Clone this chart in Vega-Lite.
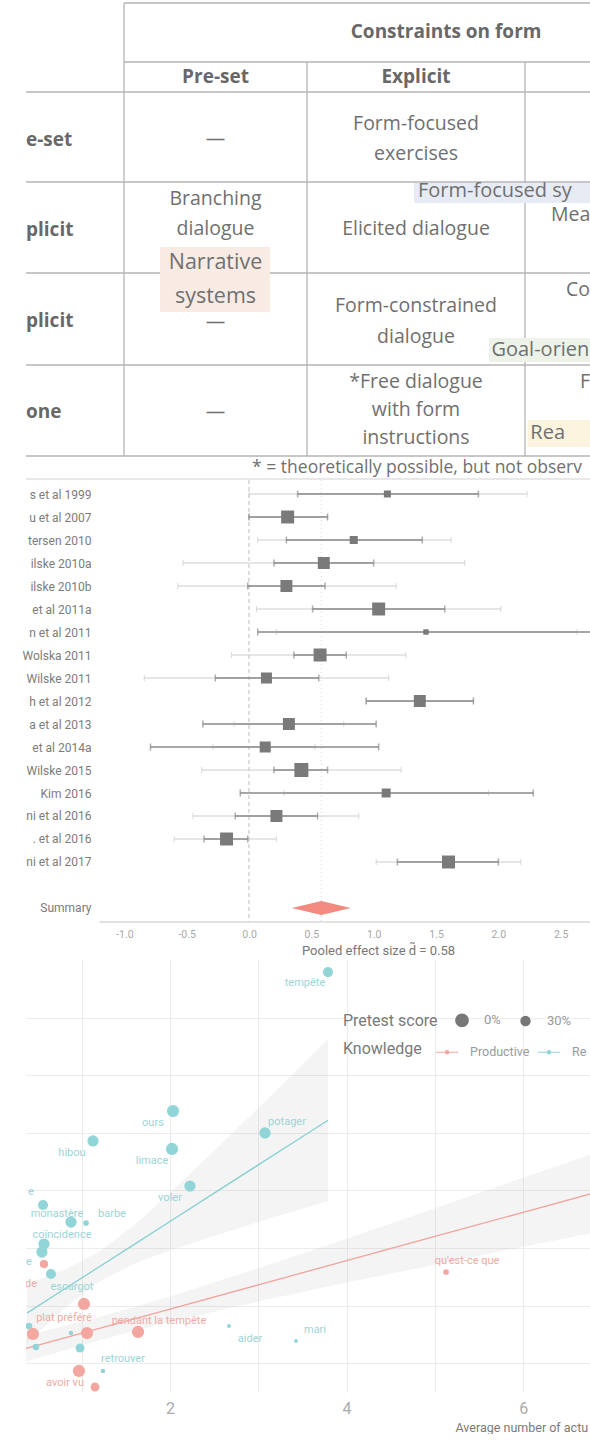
{
  "$schema": "https://vega.github.io/schema/vega-lite/v6.json",
  "padding": 0,
  "background": "white",
  "spacing": 0,
  "bounds": "flush",
  "resolve": {"scale": {"color": "independent", "size": "independent"}, "legend": {"color": "independent", "size": "independent"}},
  "config": {"view": {"stroke": null}, "font": "Roboto"},
  "datasets": {
    "tableLines": [
      {"x": 1, "x2": 4, "y": 0, "y2": 0},
      {"x": 1, "x2": 4, "y": 1, "y2": 1},
      {"x": 0, "x2": 4, "y": 2, "y2": 2},
      {"x": 0, "x2": 4, "y": 3, "y2": 3},
      {"x": 0, "x2": 4, "y": 4, "y2": 4},
      {"x": 0, "x2": 4, "y": 5, "y2": 5},
      {"x": 0, "x2": 4, "y": 6, "y2": 6},
      {"x": 1, "x2": 1, "y": 0, "y2": 6},
      {"x": 2, "x2": 2, "y": 1, "y2": 6},
      {"x": 3, "x2": 3, "y": 1, "y2": 6}
    ],
    "tableBoxes": [
      {"label": "Form-focused sy", "x": 2.491, "x2": 4, "y": 3.011, "y2": 3.231},
      {"label": "Narrative systems", "x": 1.197, "x2": 1.798, "y": 3.714, "y2": 4.424},
      {"label": "Goal-orien", "x": 2.835, "x2": 4, "y": 4.707, "y2": 4.967},
      {"label": "Rea", "x": 3.01, "x2": 4, "y": 5.604, "y2": 5.901}
    ],
    "tableText": [
      {"text": "Constraints on form", "x": 2.638, "y": 0.49, "part": "header"},
      {"text": "Pre-set", "x": 1.5, "y": 1.5, "part": "header"},
      {"text": "Explicit", "x": 2.5, "y": 1.5, "part": "header"},
      {"text": "e-set", "x": 0, "y": 2.533, "part": "rowhead"},
      {"text": "plicit", "x": 0, "y": 3.53, "part": "rowhead"},
      {"text": "plicit", "x": 0, "y": 4.522, "part": "rowhead"},
      {"text": "one", "x": 0, "y": 5.516, "part": "rowhead"},
      {"text": "—", "x": 1.5, "y": 2.52, "part": "cell"},
      {"text": "Form-focused", "x": 2.5, "y": 2.356, "part": "cell"},
      {"text": "exercises", "x": 2.5, "y": 2.689, "part": "cell"},
      {"text": "Branching", "x": 1.5, "y": 3.187, "part": "cell"},
      {"text": "dialogue", "x": 1.5, "y": 3.516, "part": "cell"},
      {"text": "Elicited dialogue", "x": 2.5, "y": 3.516, "part": "cell"},
      {"text": "—", "x": 1.5, "y": 4.533, "part": "cell"},
      {"text": "Form-constrained", "x": 2.5, "y": 4.359, "part": "cell"},
      {"text": "dialogue", "x": 2.5, "y": 4.696, "part": "cell"},
      {"text": "—", "x": 1.5, "y": 5.516, "part": "cell"},
      {"text": "*Free dialogue", "x": 2.5, "y": 5.187, "part": "cell"},
      {"text": "with form", "x": 2.5, "y": 5.495, "part": "cell"},
      {"text": "instructions", "x": 2.5, "y": 5.8, "part": "cell"},
      {"text": "Mea", "x": 3.107, "y": 3.36, "part": "cut"},
      {"text": "Co", "x": 3.169, "y": 4.185, "part": "cut"},
      {"text": "F", "x": 3.226, "y": 5.187, "part": "cut"},
      {"text": "Narrative", "x": 1.5, "y": 3.89, "part": "tag"},
      {"text": "systems", "x": 1.5, "y": 4.26, "part": "tag"},
      {"text": "Form-focused sy", "x": 2.509, "y": 3.1, "part": "tagcut"},
      {"text": "Goal-orien", "x": 2.846, "y": 4.837, "part": "tagcut"},
      {"text": "Rea", "x": 3.022, "y": 5.75, "part": "tagcut"},
      {"text": "* = theoretically possible, but not observ", "x": 1.7, "y": 6.5, "part": "note"}
    ],
    "forest": [
      {"study": "s et al 1999", "d": 1.11, "weight": 0.25, "lo1": 0.0, "hi1": 2.23, "lo2": 0.39, "hi2": 1.84},
      {"study": "u et al 2007", "d": 0.31, "weight": 0.86, "lo1": 0.0, "hi1": 0.63, "lo2": 0.0, "hi2": 0.63},
      {"study": "tersen 2010", "d": 0.84, "weight": 0.33, "lo1": 0.07, "hi1": 1.62, "lo2": 0.3, "hi2": 1.39},
      {"study": "ilske 2010a", "d": 0.6, "weight": 0.73, "lo1": -0.53, "hi1": 1.73, "lo2": 0.2, "hi2": 1.0},
      {"study": "ilske 2010b", "d": 0.3, "weight": 0.73, "lo1": -0.57, "hi1": 1.18, "lo2": -0.01, "hi2": 0.61},
      {"study": "et al 2011a", "d": 1.04, "weight": 0.86, "lo1": 0.06, "hi1": 2.02, "lo2": 0.51, "hi2": 1.57},
      {"study": "n et al 2011", "d": 1.42, "weight": 0.15, "lo1": 0.22, "hi1": 2.63, "lo2": 0.07, "hi2": 3.3},
      {"study": "Wolska 2011", "d": 0.57, "weight": 0.86, "lo1": -0.14, "hi1": 1.26, "lo2": 0.36, "hi2": 0.78},
      {"study": "Wilske 2011", "d": 0.14, "weight": 0.62, "lo1": -0.84, "hi1": 1.12, "lo2": -0.27, "hi2": 0.56},
      {"study": "h et al 2012", "d": 1.37, "weight": 0.73, "lo1": 0.94, "hi1": 1.8, "lo2": 0.94, "hi2": 1.8},
      {"study": "a et al 2013", "d": 0.32, "weight": 0.73, "lo1": -0.12, "hi1": 0.76, "lo2": -0.37, "hi2": 1.02},
      {"study": "et al 2014a", "d": 0.13, "weight": 0.62, "lo1": -0.29, "hi1": 0.53, "lo2": -0.79, "hi2": 1.04},
      {"study": "Wilske 2015", "d": 0.42, "weight": 1.0, "lo1": -0.38, "hi1": 1.22, "lo2": 0.2, "hi2": 0.63},
      {"study": "Kim 2016", "d": 1.1, "weight": 0.41, "lo1": 0.28, "hi1": 1.92, "lo2": -0.07, "hi2": 2.28},
      {"study": "ni et al 2016", "d": 0.22, "weight": 0.73, "lo1": -0.45, "hi1": 0.88, "lo2": -0.11, "hi2": 0.55},
      {"study": ". et al 2016", "d": -0.18, "weight": 0.86, "lo1": -0.6, "hi1": 0.22, "lo2": -0.36, "hi2": -0.01},
      {"study": "ni et al 2017", "d": 1.6, "weight": 0.86, "lo1": 1.02, "hi1": 2.18, "lo2": 1.19, "hi2": 2.0}
    ],
    "scatterPoints": [
      {"word": "tempête", "knowledge": "Receptive", "x": 3.789, "y": 6.79, "pretest": 0.2},
      {"word": "ours", "knowledge": "Receptive", "x": 2.034, "y": 4.378, "pretest": 0},
      {"word": "hibou", "knowledge": "Receptive", "x": 1.128, "y": 3.858, "pretest": 0.1},
      {"word": "limace", "knowledge": "Receptive", "x": 2.023, "y": 3.719, "pretest": 0},
      {"word": "potager", "knowledge": "Receptive", "x": 3.076, "y": 3.997, "pretest": 0.1},
      {"word": "voler", "knowledge": "Receptive", "x": 2.226, "y": 3.076, "pretest": 0.1},
      {"word": "w7", "knowledge": "Receptive", "x": 0.562, "y": 2.747, "pretest": 0.2},
      {"word": "monastère", "knowledge": "Receptive", "x": 0.879, "y": 2.451, "pretest": 0.1},
      {"word": "barbe", "knowledge": "Receptive", "x": 1.049, "y": 2.434, "pretest": 0.5},
      {"word": "coïncidence", "knowledge": "Receptive", "x": 0.573, "y": 2.069, "pretest": 0.1},
      {"word": "w11", "knowledge": "Receptive", "x": 0.55, "y": 1.93, "pretest": 0.1},
      {"word": "escargot", "knowledge": "Receptive", "x": 0.652, "y": 1.548, "pretest": 0.2},
      {"word": "w13", "knowledge": "Receptive", "x": 0.403, "y": 0.646, "pretest": 0.45},
      {"word": "w14", "knowledge": "Receptive", "x": 0.879, "y": 0.524, "pretest": 0.55},
      {"word": "aider", "knowledge": "Receptive", "x": 2.668, "y": 0.646, "pretest": 0.57},
      {"word": "mari", "knowledge": "Receptive", "x": 3.427, "y": 0.385, "pretest": 0.57},
      {"word": "w17", "knowledge": "Receptive", "x": 0.482, "y": 0.281, "pretest": 0.45},
      {"word": "retrouver", "knowledge": "Receptive", "x": 0.981, "y": 0.264, "pretest": 0.3},
      {"word": "w19", "knowledge": "Receptive", "x": 1.241, "y": -0.135, "pretest": 0.55},
      {"word": "w20", "knowledge": "Productive", "x": 0.573, "y": 1.722, "pretest": 0.35},
      {"word": "plat préféré", "knowledge": "Productive", "x": 1.026, "y": 1.028, "pretest": 0},
      {"word": "w22", "knowledge": "Productive", "x": 0.448, "y": 0.507, "pretest": 0},
      {"word": "w23", "knowledge": "Productive", "x": 1.06, "y": 0.524, "pretest": 0},
      {"word": "pendant la tempête", "knowledge": "Productive", "x": 1.638, "y": 0.542, "pretest": 0},
      {"word": "w25", "knowledge": "Productive", "x": 0.969, "y": -0.135, "pretest": 0},
      {"word": "avoir vu", "knowledge": "Productive", "x": 1.151, "y": -0.413, "pretest": 0.3},
      {"word": "qu'est-ce que", "knowledge": "Productive", "x": 5.126, "y": 1.583, "pretest": 0.5}
    ],
    "fits": [
      {"group": "Receptive", "x": 0.38, "fit": 0.87, "lo": 0.36, "hi": 1.38},
      {"group": "Receptive", "x": 0.8, "fit": 1.283, "lo": 0.95, "hi": 1.62},
      {"group": "Receptive", "x": 1.2, "fit": 1.675, "lo": 1.42, "hi": 1.94},
      {"group": "Receptive", "x": 1.6, "fit": 2.068, "lo": 1.73, "hi": 2.4},
      {"group": "Receptive", "x": 2.0, "fit": 2.461, "lo": 1.96, "hi": 2.96},
      {"group": "Receptive", "x": 2.5, "fit": 2.952, "lo": 2.21, "hi": 3.69},
      {"group": "Receptive", "x": 3.0, "fit": 3.443, "lo": 2.45, "hi": 4.43},
      {"group": "Receptive", "x": 3.4, "fit": 3.836, "lo": 2.64, "hi": 5.03},
      {"group": "Receptive", "x": 3.79, "fit": 4.219, "lo": 2.82, "hi": 5.62},
      {"group": "Productive", "x": 0.3, "fit": 0.226, "lo": 0.0, "hi": 0.45},
      {"group": "Productive", "x": 1.2, "fit": 0.604, "lo": 0.4, "hi": 0.8},
      {"group": "Productive", "x": 2.0, "fit": 0.94, "lo": 0.72, "hi": 1.16},
      {"group": "Productive", "x": 3.0, "fit": 1.36, "lo": 1.07, "hi": 1.65},
      {"group": "Productive", "x": 4.0, "fit": 1.78, "lo": 1.4, "hi": 2.16},
      {"group": "Productive", "x": 5.0, "fit": 2.2, "lo": 1.71, "hi": 2.69},
      {"group": "Productive", "x": 6.0, "fit": 2.62, "lo": 2.02, "hi": 3.22},
      {"group": "Productive", "x": 7.2, "fit": 3.124, "lo": 2.39, "hi": 3.85}
    ],
    "wordLabels": [
      {"text": "tempête", "group": "Receptive", "x": 3.529, "y": 6.6},
      {"text": "ours", "group": "Receptive", "x": 1.807, "y": 4.17},
      {"text": "hibou", "group": "Receptive", "x": 0.89, "y": 3.649},
      {"text": "limace", "group": "Receptive", "x": 1.796, "y": 3.51},
      {"text": "potager", "group": "Receptive", "x": 3.325, "y": 4.19},
      {"text": "voler", "group": "Receptive", "x": 2.0, "y": 2.87},
      {"text": "e", "group": "Receptive", "x": 0.426, "y": 2.97},
      {"text": "monastère", "group": "Receptive", "x": 0.72, "y": 2.589},
      {"text": "barbe", "group": "Receptive", "x": 1.343, "y": 2.589},
      {"text": "coïncidence", "group": "Receptive", "x": 0.777, "y": 2.225},
      {"text": "e", "group": "Receptive", "x": 0.403, "y": 1.757},
      {"text": "de", "group": "Productive", "x": 0.426, "y": 1.375},
      {"text": "escargot", "group": "Receptive", "x": 0.89, "y": 1.323},
      {"text": "plat préféré", "group": "Productive", "x": 0.8, "y": 0.785},
      {"text": "pendant la tempête", "group": "Productive", "x": 1.875, "y": 0.733},
      {"text": "aider", "group": "Receptive", "x": 2.906, "y": 0.42},
      {"text": "mari", "group": "Receptive", "x": 3.642, "y": 0.576},
      {"text": "retrouver", "group": "Receptive", "x": 1.468, "y": 0.073},
      {"text": "avoir vu", "group": "Productive", "x": 0.811, "y": -0.344},
      {"text": "qu'est-ce que", "group": "Productive", "x": 5.364, "y": 1.774}
    ]
  },
  "vconcat": [
    {
      "width": 590,
      "height": 480,
      "layer": [
        {
          "data": {"name": "tableLines"},
          "mark": {"type": "rule", "color": "#b4b4b4", "strokeWidth": 1.3, "clip": true},
          "encoding": {
            "x": {"field": "x", "type": "quantitative", "scale": {"domain": [0, 1, 2, 3, 4], "range": [26, 124, 307, 525, 768]}, "axis": null},
            "x2": {"field": "x2"},
            "y": {"field": "y", "type": "quantitative", "scale": {"domain": [0, 1, 2, 3, 4, 5, 6, 7], "range": [3, 62, 92, 182, 273, 365, 456, 479]}, "axis": null},
            "y2": {"field": "y2"}
          }
        },
        {
          "data": {"values": [{"edge": "bottom"}]},
          "mark": {"type": "rule", "color": "#d2d2d2", "strokeWidth": 1.2, "clip": true},
          "encoding": {
            "x": {"datum": 0, "type": "quantitative", "scale": {"domain": [0, 1, 2, 3, 4], "range": [26, 124, 307, 525, 768]}},
            "x2": {"datum": 4},
            "y": {"datum": 7, "type": "quantitative", "scale": {"domain": [0, 1, 2, 3, 4, 5, 6, 7], "range": [3, 62, 92, 182, 273, 365, 456, 479]}}
          }
        },
        {
          "data": {"name": "tableBoxes"},
          "mark": {"type": "rect", "clip": true},
          "encoding": {
            "x": {"field": "x", "type": "quantitative", "scale": {"domain": [0, 1, 2, 3, 4], "range": [26, 124, 307, 525, 768]}},
            "x2": {"field": "x2"},
            "y": {"field": "y", "type": "quantitative", "scale": {"domain": [0, 1, 2, 3, 4, 5, 6, 7], "range": [3, 62, 92, 182, 273, 365, 456, 479]}},
            "y2": {"field": "y2"},
            "fill": {"field": "label", "type": "nominal", "scale": {"domain": ["Form-focused sy", "Narrative systems", "Goal-orien", "Rea"], "range": ["#e7ebf4", "#f8ebe3", "#edf3e8", "#fcf4df"]}, "legend": null}
          }
        },
        {
          "data": {"name": "tableText"},
          "transform": [{"filter": "datum.part === 'header'"}],
          "mark": {"type": "text", "font": "Open Sans", "fontWeight": "bold", "fontSize": 19, "color": "#686868", "align": "center", "baseline": "middle"},
          "encoding": {
            "x": {"field": "x", "type": "quantitative", "scale": {"domain": [0, 1, 2, 3, 4], "range": [26, 124, 307, 525, 768]}},
            "y": {"field": "y", "type": "quantitative", "scale": {"domain": [0, 1, 2, 3, 4, 5, 6, 7], "range": [3, 62, 92, 182, 273, 365, 456, 479]}},
            "text": {"field": "text"}
          }
        },
        {
          "data": {"name": "tableText"},
          "transform": [{"filter": "datum.part === 'rowhead'"}],
          "mark": {"type": "text", "font": "Open Sans", "fontWeight": "bold", "fontSize": 19, "color": "#686868", "align": "left", "baseline": "middle"},
          "encoding": {
            "x": {"field": "x", "type": "quantitative", "scale": {"domain": [0, 1, 2, 3, 4], "range": [26, 124, 307, 525, 768]}},
            "y": {"field": "y", "type": "quantitative", "scale": {"domain": [0, 1, 2, 3, 4, 5, 6, 7], "range": [3, 62, 92, 182, 273, 365, 456, 479]}},
            "text": {"field": "text"}
          }
        },
        {
          "data": {"name": "tableText"},
          "transform": [{"filter": "datum.part === 'cell'"}],
          "mark": {"type": "text", "font": "Open Sans", "fontSize": 19.5, "color": "#707070", "align": "center", "baseline": "middle"},
          "encoding": {
            "x": {"field": "x", "type": "quantitative", "scale": {"domain": [0, 1, 2, 3, 4], "range": [26, 124, 307, 525, 768]}},
            "y": {"field": "y", "type": "quantitative", "scale": {"domain": [0, 1, 2, 3, 4, 5, 6, 7], "range": [3, 62, 92, 182, 273, 365, 456, 479]}},
            "text": {"field": "text"}
          }
        },
        {
          "data": {"name": "tableText"},
          "transform": [{"filter": "datum.part === 'cut'"}],
          "mark": {"type": "text", "font": "Open Sans", "fontSize": 19.5, "color": "#707070", "align": "left", "baseline": "middle"},
          "encoding": {
            "x": {"field": "x", "type": "quantitative", "scale": {"domain": [0, 1, 2, 3, 4], "range": [26, 124, 307, 525, 768]}},
            "y": {"field": "y", "type": "quantitative", "scale": {"domain": [0, 1, 2, 3, 4, 5, 6, 7], "range": [3, 62, 92, 182, 273, 365, 456, 479]}},
            "text": {"field": "text"}
          }
        },
        {
          "data": {"name": "tableText"},
          "transform": [{"filter": "datum.part === 'tag'"}],
          "mark": {"type": "text", "font": "Open Sans", "fontSize": 21.5, "color": "#707070", "align": "center", "baseline": "middle"},
          "encoding": {
            "x": {"field": "x", "type": "quantitative", "scale": {"domain": [0, 1, 2, 3, 4], "range": [26, 124, 307, 525, 768]}},
            "y": {"field": "y", "type": "quantitative", "scale": {"domain": [0, 1, 2, 3, 4, 5, 6, 7], "range": [3, 62, 92, 182, 273, 365, 456, 479]}},
            "text": {"field": "text"}
          }
        },
        {
          "data": {"name": "tableText"},
          "transform": [{"filter": "datum.part === 'tagcut'"}],
          "mark": {"type": "text", "font": "Open Sans", "fontSize": 20, "color": "#707070", "align": "left", "baseline": "middle"},
          "encoding": {
            "x": {"field": "x", "type": "quantitative", "scale": {"domain": [0, 1, 2, 3, 4], "range": [26, 124, 307, 525, 768]}},
            "y": {"field": "y", "type": "quantitative", "scale": {"domain": [0, 1, 2, 3, 4, 5, 6, 7], "range": [3, 62, 92, 182, 273, 365, 456, 479]}},
            "text": {"field": "text"}
          }
        },
        {
          "data": {"name": "tableText"},
          "transform": [{"filter": "datum.part === 'note'"}],
          "mark": {"type": "text", "font": "Open Sans", "fontSize": 17.5, "color": "#707070", "align": "left", "baseline": "middle"},
          "encoding": {
            "x": {"field": "x", "type": "quantitative", "scale": {"domain": [0, 1, 2, 3, 4], "range": [26, 124, 307, 525, 768]}},
            "y": {"field": "y", "type": "quantitative", "scale": {"domain": [0, 1, 2, 3, 4, 5, 6, 7], "range": [3, 62, 92, 182, 273, 365, 456, 479]}},
            "text": {"field": "text"}
          }
        }
      ]
    },
    {
      "spacing": 38,
      "bounds": "flush",
      "resolve": {"scale": {"color": "independent", "size": "independent"}, "legend": {"color": "independent", "size": "independent"}},
      "vconcat": [
        {
          "width": 590,
          "height": 442,
          "layer": [
            {
              "data": {"values": [{"ref": "zero"}]},
              "mark": {"type": "rule", "color": "#bdbdbd", "strokeDash": [4, 3], "strokeWidth": 1},
              "encoding": {"x": {"datum": 0, "type": "quantitative", "scale": {"domain": [-1.997, 2.735], "nice": false, "zero": false}}}
            },
            {
              "data": {"values": [{"ref": "pooled"}]},
              "mark": {"type": "rule", "color": "#d6d6d6", "strokeDash": [1, 3], "strokeWidth": 1},
              "encoding": {"x": {"datum": 0.58, "type": "quantitative", "scale": {"domain": [-1.997, 2.735], "nice": false, "zero": false}}}
            },
            {
              "data": {"values": [{"ref": "axis"}]},
              "mark": {"type": "rule", "color": "#c4c4c4", "strokeWidth": 1.2},
              "encoding": {
                "x": {"datum": -1.2, "type": "quantitative", "scale": {"domain": [-1.997, 2.735], "nice": false, "zero": false}},
                "x2": {"datum": 3.0},
                "y": {"value": "height"}
              }
            },
            {
              "data": {"name": "forest"},
              "mark": {"type": "rule", "color": "#cdcdcd", "strokeWidth": 1.1, "clip": true},
              "encoding": {
                "x": {"field": "lo1", "type": "quantitative", "scale": {"domain": [-1.997, 2.735], "nice": false, "zero": false},
                  "axis": {"title": "Pooled effect size d̃ = 0.58", "values": [-1, -0.5, 0, 0.5, 1, 1.5, 2, 2.5], "labelExpr": "replace(format(datum.value, '.1f'), '−', '-')", "domain": false, "ticks": false, "grid": false, "labelPadding": 7, "labelFontSize": 10.5, "labelColor": "#a8a8a8", "titleFontSize": 13, "titleFontWeight": "normal", "titleColor": "#777777", "titleX": 378, "titleY": 28, "titleAlign": "center", "titleBaseline": "middle"}},
                "x2": {"field": "hi1"},
                "y": {"field": "study", "type": "nominal", "sort": null,
                  "scale": {"type": "point", "padding": 0.6087, "domain": ["s et al 1999", "u et al 2007", "tersen 2010", "ilske 2010a", "ilske 2010b", "et al 2011a", "n et al 2011", "Wolska 2011", "Wilske 2011", "h et al 2012", "a et al 2013", "et al 2014a", "Wilske 2015", "Kim 2016", "ni et al 2016", ". et al 2016", "ni et al 2017", " ", "Summary"]},
                  "axis": {"title": null, "orient": "left", "offset": -100, "domain": false, "ticks": false, "grid": false, "labelPadding": 9, "labelFontSize": 12, "labelColor": "#7c7c7c", "minExtent": 0}}
              }
            },
            {
              "data": {"name": "forest"},
              "mark": {"type": "tick", "color": "#cdcdcd", "thickness": 1.1, "size": 6, "clip": true},
              "encoding": {
                "x": {"field": "lo1", "type": "quantitative", "scale": {"domain": [-1.997, 2.735], "nice": false, "zero": false}},
                "y": {"field": "study", "type": "nominal", "sort": null, "scale": {"type": "point", "padding": 0.6087, "domain": ["s et al 1999", "u et al 2007", "tersen 2010", "ilske 2010a", "ilske 2010b", "et al 2011a", "n et al 2011", "Wolska 2011", "Wilske 2011", "h et al 2012", "a et al 2013", "et al 2014a", "Wilske 2015", "Kim 2016", "ni et al 2016", ". et al 2016", "ni et al 2017", " ", "Summary"]}}
              }
            },
            {
              "data": {"name": "forest"},
              "mark": {"type": "tick", "color": "#cdcdcd", "thickness": 1.1, "size": 6, "clip": true},
              "encoding": {
                "x": {"field": "hi1", "type": "quantitative", "scale": {"domain": [-1.997, 2.735], "nice": false, "zero": false}},
                "y": {"field": "study", "type": "nominal", "sort": null, "scale": {"type": "point", "padding": 0.6087, "domain": ["s et al 1999", "u et al 2007", "tersen 2010", "ilske 2010a", "ilske 2010b", "et al 2011a", "n et al 2011", "Wolska 2011", "Wilske 2011", "h et al 2012", "a et al 2013", "et al 2014a", "Wilske 2015", "Kim 2016", "ni et al 2016", ". et al 2016", "ni et al 2017", " ", "Summary"]}}
              }
            },
            {
              "data": {"name": "forest"},
              "mark": {"type": "rule", "color": "#8a8a8a", "strokeWidth": 1.6, "clip": true},
              "encoding": {
                "x": {"field": "lo2", "type": "quantitative", "scale": {"domain": [-1.997, 2.735], "nice": false, "zero": false}},
                "x2": {"field": "hi2"},
                "y": {"field": "study", "type": "nominal", "sort": null, "scale": {"type": "point", "padding": 0.6087, "domain": ["s et al 1999", "u et al 2007", "tersen 2010", "ilske 2010a", "ilske 2010b", "et al 2011a", "n et al 2011", "Wolska 2011", "Wilske 2011", "h et al 2012", "a et al 2013", "et al 2014a", "Wilske 2015", "Kim 2016", "ni et al 2016", ". et al 2016", "ni et al 2017", " ", "Summary"]}}
              }
            },
            {
              "data": {"name": "forest"},
              "mark": {"type": "tick", "color": "#8a8a8a", "thickness": 1.5, "size": 7, "clip": true},
              "encoding": {
                "x": {"field": "lo2", "type": "quantitative", "scale": {"domain": [-1.997, 2.735], "nice": false, "zero": false}},
                "y": {"field": "study", "type": "nominal", "sort": null, "scale": {"type": "point", "padding": 0.6087, "domain": ["s et al 1999", "u et al 2007", "tersen 2010", "ilske 2010a", "ilske 2010b", "et al 2011a", "n et al 2011", "Wolska 2011", "Wilske 2011", "h et al 2012", "a et al 2013", "et al 2014a", "Wilske 2015", "Kim 2016", "ni et al 2016", ". et al 2016", "ni et al 2017", " ", "Summary"]}}
              }
            },
            {
              "data": {"name": "forest"},
              "mark": {"type": "tick", "color": "#8a8a8a", "thickness": 1.5, "size": 7, "clip": true},
              "encoding": {
                "x": {"field": "hi2", "type": "quantitative", "scale": {"domain": [-1.997, 2.735], "nice": false, "zero": false}},
                "y": {"field": "study", "type": "nominal", "sort": null, "scale": {"type": "point", "padding": 0.6087, "domain": ["s et al 1999", "u et al 2007", "tersen 2010", "ilske 2010a", "ilske 2010b", "et al 2011a", "n et al 2011", "Wolska 2011", "Wilske 2011", "h et al 2012", "a et al 2013", "et al 2014a", "Wilske 2015", "Kim 2016", "ni et al 2016", ". et al 2016", "ni et al 2017", " ", "Summary"]}}
              }
            },
            {
              "data": {"name": "forest"},
              "mark": {"type": "point", "shape": "square", "filled": true, "color": "#7a7a7a", "opacity": 1},
              "encoding": {
                "x": {"field": "d", "type": "quantitative", "scale": {"domain": [-1.997, 2.735], "nice": false, "zero": false}},
                "y": {"field": "study", "type": "nominal", "sort": null, "scale": {"type": "point", "padding": 0.6087, "domain": ["s et al 1999", "u et al 2007", "tersen 2010", "ilske 2010a", "ilske 2010b", "et al 2011a", "n et al 2011", "Wolska 2011", "Wilske 2011", "h et al 2012", "a et al 2013", "et al 2014a", "Wilske 2015", "Kim 2016", "ni et al 2016", ". et al 2016", "ni et al 2017", " ", "Summary"]}},
                "size": {"field": "weight", "type": "quantitative", "scale": {"domain": [0, 1], "range": [0, 196]}, "legend": null}
              }
            },
            {
              "data": {"values": [{"study": "Summary", "d": 0.58}]},
              "mark": {"type": "point", "shape": "M-1,0L0,-0.24L1,0L0,0.24Z", "filled": true, "color": "#f38a80", "opacity": 1, "size": 3481},
              "encoding": {
                "x": {"field": "d", "type": "quantitative", "scale": {"domain": [-1.997, 2.735], "nice": false, "zero": false}},
                "y": {"field": "study", "type": "nominal", "sort": null, "scale": {"type": "point", "padding": 0.6087, "domain": ["s et al 1999", "u et al 2007", "tersen 2010", "ilske 2010a", "ilske 2010b", "et al 2011a", "n et al 2011", "Wolska 2011", "Wilske 2011", "h et al 2012", "a et al 2013", "et al 2014a", "Wilske 2015", "Kim 2016", "ni et al 2016", ". et al 2016", "ni et al 2017", " ", "Summary"]}}
              }
            }
          ]
        },
        {
          "width": 590,
          "height": 432,
          "layer": [
            {
              "data": {"name": "fits"},
              "mark": {"type": "area", "color": "#9a9a9a", "opacity": 0.11, "clip": true},
              "encoding": {
                "x": {"field": "x", "type": "quantitative", "scale": {"domain": [0.075, 6.756], "nice": false, "zero": false},
                  "axis": {"values": [1, 2, 3, 4, 5, 6], "labelExpr": "datum.value % 2 === 0 ? format(datum.value, 'd') : ''", "grid": true, "gridColor": "#ececec", "domain": false, "ticks": false, "labelFontSize": 16, "labelColor": "#ababab", "labelPadding": 8, "title": "Average number of actu", "titleX": 455, "titleY": 35, "titleAlign": "left", "titleBaseline": "middle", "titleFontSize": 12.5, "titleFontWeight": "normal", "titleColor": "#7a7a7a"}},
                "y": {"field": "lo", "type": "quantitative", "scale": {"domain": [-0.5, 7], "nice": false, "zero": false},
                  "axis": {"values": [0, 1, 2, 3, 4, 5, 6], "grid": true, "gridColor": "#ececec", "labels": false, "ticks": false, "domain": false, "title": null, "minExtent": 0, "maxExtent": 0}},
                "y2": {"field": "hi"},
                "detail": {"field": "group"}
              }
            },
            {
              "data": {"name": "fits"},
              "transform": [{"filter": "datum.group === 'Productive'"}],
              "mark": {"type": "line", "strokeWidth": 1.3, "color": "#f2a39c", "clip": true},
              "encoding": {
                "x": {"field": "x", "type": "quantitative", "scale": {"domain": [0.075, 6.756], "nice": false, "zero": false}},
                "y": {"field": "fit", "type": "quantitative", "scale": {"domain": [-0.5, 7], "nice": false, "zero": false}}
              }
            },
            {
              "data": {"name": "fits"},
              "transform": [{"filter": "datum.group === 'Receptive'"}],
              "mark": {"type": "line", "strokeWidth": 1.3, "color": "#86d0d4", "clip": true},
              "encoding": {
                "x": {"field": "x", "type": "quantitative", "scale": {"domain": [0.075, 6.756], "nice": false, "zero": false}},
                "y": {"field": "fit", "type": "quantitative", "scale": {"domain": [-0.5, 7], "nice": false, "zero": false}}
              }
            },
            {
              "data": {"name": "scatterPoints"},
              "mark": {"type": "point", "shape": "circle", "filled": true, "opacity": 1, "clip": true},
              "encoding": {
                "x": {"field": "x", "type": "quantitative", "scale": {"domain": [0.075, 6.756], "nice": false, "zero": false}},
                "y": {"field": "y", "type": "quantitative", "scale": {"domain": [-0.5, 7], "nice": false, "zero": false}},
                "color": {"field": "knowledge", "type": "nominal", "scale": {"domain": ["Productive", "Receptive"], "range": ["#f4a7a1", "#92d5d9"]},
                  "legend": {"title": "Knowledge", "orient": "none", "legendX": 343, "legendY": 80, "direction": "horizontal", "titleOrient": "left", "titleFontSize": 16, "titleFontWeight": "normal", "titleColor": "#7a7a7a", "titlePadding": 13, "labelFontSize": 12.5, "labelColor": "#9a9a9a", "labelOffset": 11, "columnPadding": 5, "labelExpr": "datum.label === 'Receptive' ? 'Re' : datum.label", "symbolType": "M-1,0H1M0.15,0A0.15,0.15,0,1,1,-0.15,0A0.15,0.15,0,1,1,0.15,0Z", "symbolSize": 484, "symbolStrokeWidth": 1.2, "symbolOpacity": 1,
                    "encode": {"symbols": {"update": {"stroke": {"signal": "datum.value === 'Productive' ? '#f4a7a1' : '#92d5d9'"}, "strokeWidth": {"value": 1.2}}}}}},
                "size": {"field": "pretest", "type": "quantitative", "scale": {"domain": [0, 0.6], "range": [150, 9]},
                  "legend": {"title": "Pretest score", "orient": "none", "legendX": 343, "legendY": 53, "direction": "horizontal", "titleOrient": "left", "values": [0, 0.3], "format": ".0%", "titleFontSize": 16, "titleFontWeight": "normal", "titleColor": "#7a7a7a", "titlePadding": 17, "labelFontSize": 13, "labelColor": "#9a9a9a", "labelOffset": 15, "columnPadding": 17, "symbolFillColor": "#777777", "symbolStrokeColor": "#777777", "symbolOpacity": 1,
                    "encode": {"symbols": {"update": {"fill": {"value": "#777777"}, "stroke": {"value": "#777777"}}}}}}
              }
            },
            {
              "data": {"name": "wordLabels"},
              "transform": [{"filter": "datum.group === 'Productive'"}],
              "mark": {"type": "text", "fontSize": 11, "align": "center", "baseline": "middle", "color": "#f0aaa4", "clip": true},
              "encoding": {
                "x": {"field": "x", "type": "quantitative", "scale": {"domain": [0.075, 6.756], "nice": false, "zero": false}},
                "y": {"field": "y", "type": "quantitative", "scale": {"domain": [-0.5, 7], "nice": false, "zero": false}},
                "text": {"field": "text"}
              }
            },
            {
              "data": {"name": "wordLabels"},
              "transform": [{"filter": "datum.group === 'Receptive'"}],
              "mark": {"type": "text", "fontSize": 11, "align": "center", "baseline": "middle", "color": "#9dd4d7", "clip": true},
              "encoding": {
                "x": {"field": "x", "type": "quantitative", "scale": {"domain": [0.075, 6.756], "nice": false, "zero": false}},
                "y": {"field": "y", "type": "quantitative", "scale": {"domain": [-0.5, 7], "nice": false, "zero": false}},
                "text": {"field": "text"}
              }
            },
            {
              "data": {"values": [{"region": "margin"}]},
              "mark": {"type": "rect", "color": "white", "clip": true},
              "encoding": {
                "x": {"datum": 0.0, "type": "quantitative", "scale": {"domain": [0.075, 6.756], "nice": false, "zero": false}},
                "x2": {"datum": 0.369},
                "y": {"datum": -0.6, "type": "quantitative", "scale": {"domain": [-0.5, 7], "nice": false, "zero": false}},
                "y2": {"datum": 7.2}
              }
            }
          ]
        }
      ]
    }
  ]
}
